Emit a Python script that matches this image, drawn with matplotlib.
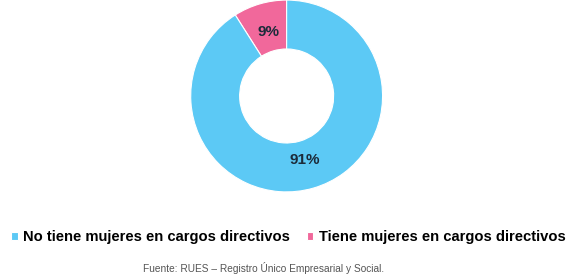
import numpy as np
import matplotlib.pyplot as plt

labels = ["Tiene mujeres en cargos directivos", "No tiene mujeres en cargos directivos"]
values = [9, 91]
colors = ["#f1689b", "#5cc9f5"]
legend_order = [1, 0]

plt.rcParams['font.family'] = ['Liberation Sans', 'DejaVu Sans']

fig = plt.figure(figsize=[5.71, 2.77], dpi=100)
ax = fig.add_axes([0.334, 0.307, 0.336, 0.693])
wedges, _ = ax.pie(values, colors=colors, startangle=90, counterclock=True,
                   radius=1.0, wedgeprops=dict(width=0.51, edgecolor="white", linewidth=0.8))
ax.set_aspect("equal")
ax.set_xlim(-1.0, 1.0)
ax.set_ylim(-1.0, 1.0)

for w, v in zip(wedges, values):
    mid = np.deg2rad((w.theta1 + w.theta2) / 2)
    r = 0.69
    ax.text(r * np.cos(mid), r * np.sin(mid), f"{v}%", ha="center", va="center",
            fontsize=11, fontweight="bold", color="#1c2b3a")

handles = [wedges[i] for i in legend_order]
fig.legend(handles, [labels[i] for i in legend_order], loc="center", bbox_to_anchor=(0.505, 0.145),
           ncol=2, frameon=False, handlelength=0.45, handleheight=0.45,
           handletextpad=0.4, columnspacing=1.1, prop=dict(weight="bold", size=10.6))
fig.text(0.462, 0.032, "Fuente: RUES – Registro Único Empresarial y Social.", ha="center",
         va="center", fontsize=7.3, color="#555555")
fig.savefig("out.png", dpi=100)
